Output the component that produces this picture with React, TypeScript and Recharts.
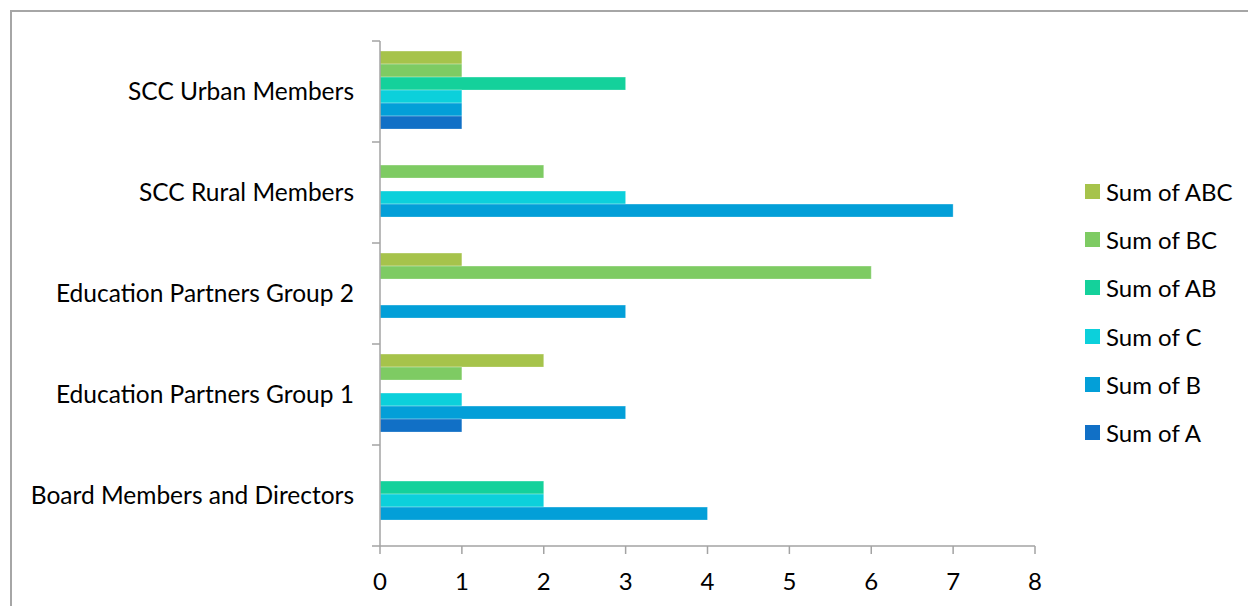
import { BarChart, Bar, XAxis, YAxis, Legend } from 'recharts';

const categories = [
  'SCC Urban Members',
  'SCC Rural Members',
  'Education Partners Group 2',
  'Education Partners Group 1',
  'Board Members and Directors',
];

const sumABC = [1, null, 1, 2, null];
const sumBC = [1, 2, 6, 1, null];
const sumAB = [3, null, null, null, 2];
const sumC = [1, 3, null, 1, 2];
const sumB = [1, 7, 3, 3, 4];
const sumA = [1, null, null, 1, null];

const xTicks = [0, 1, 2, 3, 4, 5, 6, 7, 8];

// top-to-bottom order inside each category, same as the legend
const series = [
  { key: 'abc', name: 'Sum of ABC', values: sumABC, color: '#a6c34b' },
  { key: 'bc', name: 'Sum of BC', values: sumBC, color: '#7ecb63' },
  { key: 'ab', name: 'Sum of AB', values: sumAB, color: '#14d19b' },
  { key: 'c', name: 'Sum of C', values: sumC, color: '#0cd0db' },
  { key: 'b', name: 'Sum of B', values: sumB, color: '#039fd8' },
  { key: 'a', name: 'Sum of A', values: sumA, color: '#1170c6' },
];

const data = categories.map((name, i) => {
  const row: Record<string, string | number | null> = { name };
  series.forEach((s) => {
    row[s.key] = s.values[i];
  });
  return row;
});

const W = 1248;
const H = 606;
const X_AXIS_H = 30;
const MARGIN = { top: 41, right: 213, bottom: 60 - X_AXIS_H, left: 0 };
const Y_AXIS_W = 380;
const BAND = (H - 41 - 60) / categories.length;
const FONT = 'Lato, "Open Sans", sans-serif';
const AXIS_COLOR = '#a3a3a3';

// label at the band centre, tick marks at the band edges
const CategoryTick = (props: any) => {
  const { x, y, payload, index } = props;
  const axisX = Y_AXIS_W;
  const last = index === categories.length - 1;
  return (
    <g>
      <line x1={axisX - 8} x2={axisX} y1={y - BAND / 2} y2={y - BAND / 2} stroke={AXIS_COLOR} strokeWidth={1.5} />
      {last && (
        <line x1={axisX - 8} x2={axisX} y1={y + BAND / 2} y2={y + BAND / 2} stroke={AXIS_COLOR} strokeWidth={1.5} />
      )}
      <text x={x} y={y} dy="0.36em" textAnchor="end" fill="#000" fontSize={24.5} fontFamily={FONT}>
        {payload.value}
      </text>
    </g>
  );
};

const LegendBox = () => (
  <div style={{ fontFamily: FONT, fontSize: 24, color: '#000' }}>
    {series.map((s) => (
      <div key={s.key} style={{ height: 48.3, display: 'flex', alignItems: 'center' }}>
        <span style={{ width: 15, height: 15, background: s.color, display: 'inline-block', marginRight: 6 }} />
        <span>{s.name}</span>
      </div>
    ))}
  </div>
);

export default function App() {
  return (
    <div style={{ position: 'absolute', left: 0, top: 0, width: W, height: H, overflow: 'hidden', background: '#fff' }}>
      <div
        style={{
          position: 'absolute',
          left: 10,
          top: 10,
          width: 1400,
          height: 800,
          border: '2px solid #a6a6a6',
        }}
      />
      <div style={{ position: 'absolute', left: 0, top: 0 }}>
        <BarChart
          width={W}
          height={H}
          data={data}
          layout="vertical"
          margin={MARGIN}
          barCategoryGap="10%"
          barGap={0}
        >
          <XAxis
            type="number"
            domain={[0, 8]}
            ticks={xTicks}
            interval={0}
            height={X_AXIS_H}
            stroke={AXIS_COLOR}
            strokeWidth={1.5}
            tickSize={8}
            tickMargin={19}
            tick={{ fill: '#000', fontSize: 24, fontFamily: FONT }}
          />
          <YAxis
            type="category"
            dataKey="name"
            width={Y_AXIS_W}
            stroke={AXIS_COLOR}
            strokeWidth={1.5}
            tickLine={false}
            tickSize={8}
            tickMargin={18}
            tick={<CategoryTick />}
          />
          <Legend
            layout="horizontal"
            verticalAlign="middle"
            align="center"
            wrapperStyle={{ left: 1085, top: 167, width: 170 }}
            content={<LegendBox />}
          />
          {series.map((s) => (
            <Bar
              key={s.key}
              dataKey={s.key}
              name={s.name}
              fill={s.color}
              stroke="#ffffff"
              strokeOpacity={0.3}
              isAnimationActive={false}
            />
          ))}
        </BarChart>
      </div>
    </div>
  );
}
